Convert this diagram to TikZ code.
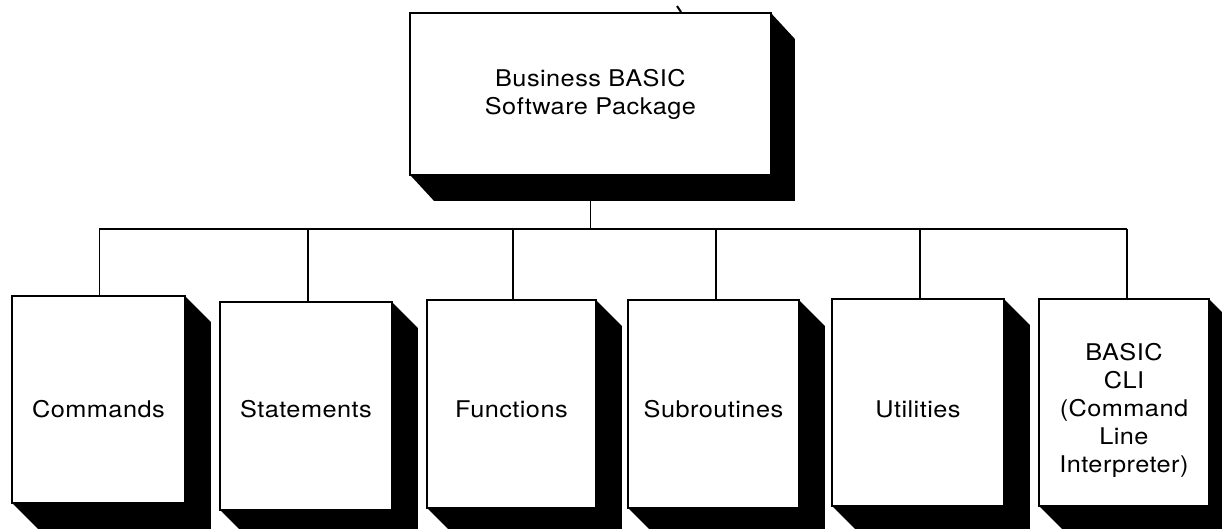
\documentclass[tikz,border=0pt]{standalone}
\usepackage{fontspec}
\setmainfont{TeX Gyre Heros}[LetterSpace=2,FakeStretch=1.1]
\begin{document}
\begin{tikzpicture}[x=1pt,y=1pt,
  box/.style={draw=black,line width=1.9pt,fill=white,rectangle,inner sep=0pt,anchor=north west},
  wire/.style={draw=black,line width=1.9pt},
  lbl/.style={font=\fontsize{23}{28}\selectfont,align=center,inner sep=0pt},
  shade/.style={fill=black}]
\useasboundingbox (0,0) rectangle (1222,-529);

% boxes (empty) placed by their top-left corners
\node[box,minimum width=359pt,minimum height=160pt] (top) at (410,-13) {};
\node[box,minimum width=171pt,minimum height=205pt] (cmd) at (12,-296) {};
\node[box,minimum width=170pt,minimum height=206pt] (stm) at (220,-302) {};
\node[box,minimum width=167pt,minimum height=206pt] (fun) at (427,-300) {};
\node[box,minimum width=169pt,minimum height=206pt] (sub) at (628,-300) {};
\node[box,minimum width=170pt,minimum height=205pt] (utl) at (832,-299) {};
\node[box,minimum width=168pt,minimum height=205pt] (cli) at (1039,-299) {};

\coordinate (bus) at (0,-229);

% connectors
\draw[wire] (top.south) -- (top.south |- bus);
\draw[wire] ([xshift=1pt]cmd.north |- bus) -- ([xshift=3pt]cli.north |- bus);
\draw[wire] ([xshift=1pt]cmd.north |- bus) -- ([xshift=1pt]cmd.north);
\draw[wire] ([xshift=2pt]stm.north |- bus) -- ([xshift=2pt]stm.north);
\draw[wire] ([xshift=1.5pt]fun.north |- bus) -- ([xshift=1.5pt]fun.north);
\draw[wire] ([xshift=2.5pt]sub.north |- bus) -- ([xshift=2.5pt]sub.north);
\draw[wire] ([xshift=2pt]utl.north |- bus) -- ([xshift=2pt]utl.north);
\draw[wire] ([xshift=3pt]cli.north |- bus) -- ([xshift=3pt]cli.north);

% solid drop shadows below and right of each box
\fill[shade] (top.north east) -- ++(24,-26) -- ([shift={(24,-26)}]top.south east)
  -- ([shift={(24,-26)}]top.south west) -- (top.south west) -- cycle;
\foreach \b in {cmd,stm,fun,sub,utl,cli}{
  \fill[shade] (\b.north east) -- ++(26,-26) -- ([shift={(26,-26)}]\b.south east)
    -- ([shift={(26,-26)}]\b.south west) -- (\b.south west) -- cycle;
}

% redraw the box faces over the shadows
\foreach \b in {top,cmd,stm,fun,sub,utl,cli}{
  \draw[line width=1.9pt,fill=white] (\b.south west) rectangle (\b.north east);
}

% small stroke on the top edge of the main box
\draw[line width=2pt] (677,-6) -- (681,-12);

% labels
\node[lbl] (topt) at (top.center) {Business BASIC\\Software Package};
\node[lbl] (cmdt) at (cmd.center |- 0,-409) {Commands};
\node[lbl] (stmt) at (stm.center |- 0,-409) {Statements};
\node[lbl] (funt) at (fun.center |- 0,-409) {Functions};
\node[lbl] (subt) at (sub.center |- 0,-409) {Subroutines};
\node[lbl] (utlt) at (utl.center |- 0,-409) {Utilities};
\node[lbl] (clit) at (cli.center |- 0,-410) {BASIC\\CLI\\(Command\\Line\\Interpreter)};
\end{tikzpicture}
\end{document}
